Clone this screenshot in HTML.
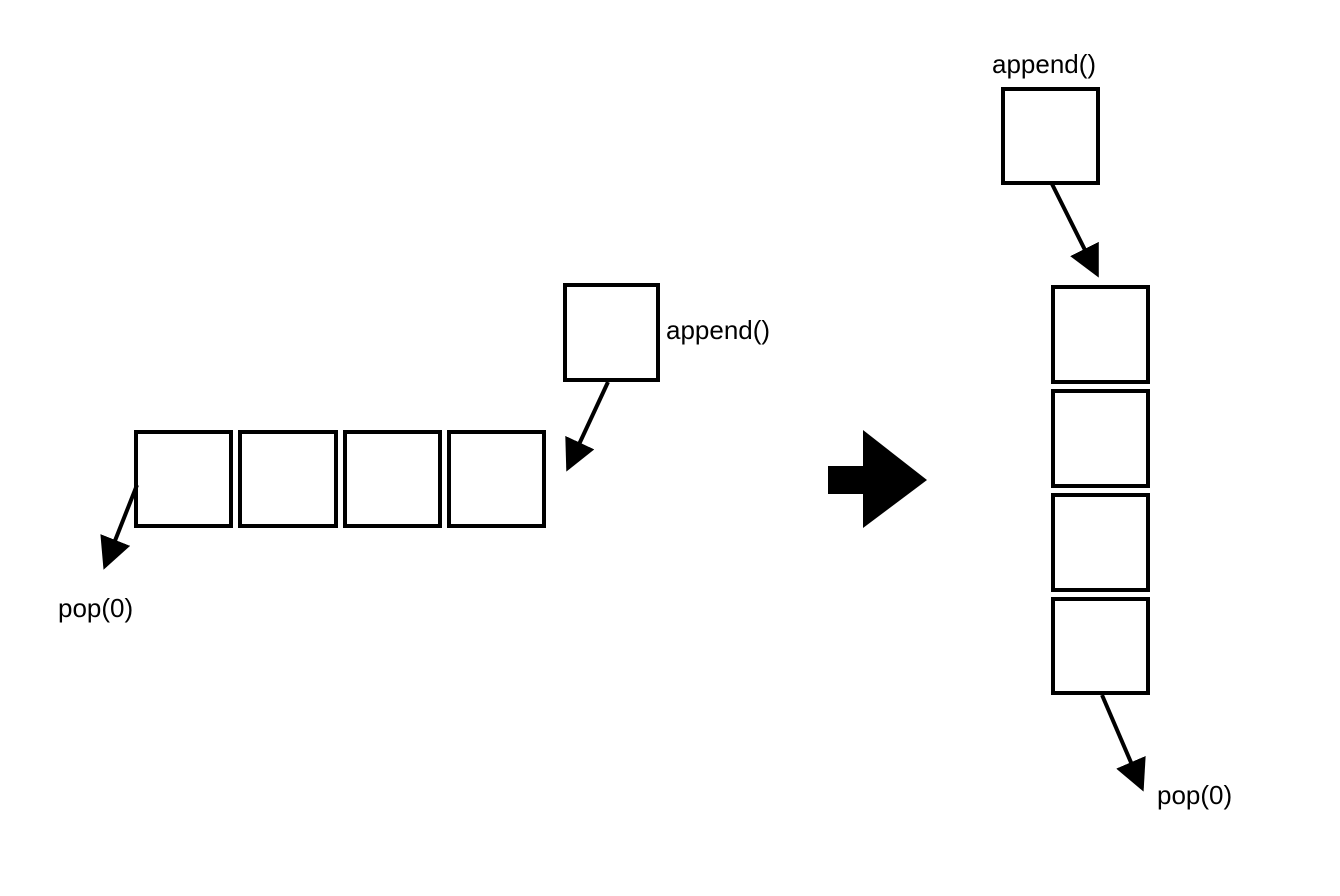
<!DOCTYPE html>
<html><head><style>body{margin:0;background:#fff}svg{display:block}text{font-family:"Liberation Sans","DejaVu Sans",sans-serif;font-size:26px;fill:#000}</style></head>
<body>
<svg width="1340" height="896" viewBox="0 0 1340 896" xmlns="http://www.w3.org/2000/svg">
<defs><marker id="a" markerWidth="8" markerHeight="8" refX="7" refY="4" orient="auto" markerUnits="strokeWidth"><path d="M0,0 L8,4 L0,8 z" fill="#000"/></marker></defs>
<g fill="none" stroke="#000" stroke-width="4">
<rect x="136" y="432" width="95" height="94"/>
<rect x="240" y="432" width="96" height="94"/>
<rect x="345" y="432" width="95" height="94"/>
<rect x="449" y="432" width="95" height="94"/>
<rect x="565" y="285" width="93" height="95"/>
<rect x="1003" y="89" width="95" height="94"/>
<rect x="1053" y="287" width="95" height="95"/>
<rect x="1053" y="391" width="95" height="95"/>
<rect x="1053" y="495" width="95" height="95"/>
<rect x="1053" y="599" width="95" height="94"/>
<line x1="608" y1="382" x2="568" y2="468" marker-end="url(#a)"/>
<line x1="137" y1="485" x2="105" y2="566" marker-end="url(#a)"/>
<line x1="1052" y1="184" x2="1097" y2="274" marker-end="url(#a)"/>
<line x1="1102" y1="695" x2="1142" y2="788" marker-end="url(#a)"/>
</g>
<rect x="828" y="466" width="37" height="28" fill="#000"/>
<polygon points="863,430 927,480 863,528" fill="#000"/>
<text x="666" y="339">append()</text>
<text x="992" y="73">append()</text>
<text x="58" y="617">pop(0)</text>
<text x="1157" y="804">pop(0)</text>
</svg>
</body></html>
